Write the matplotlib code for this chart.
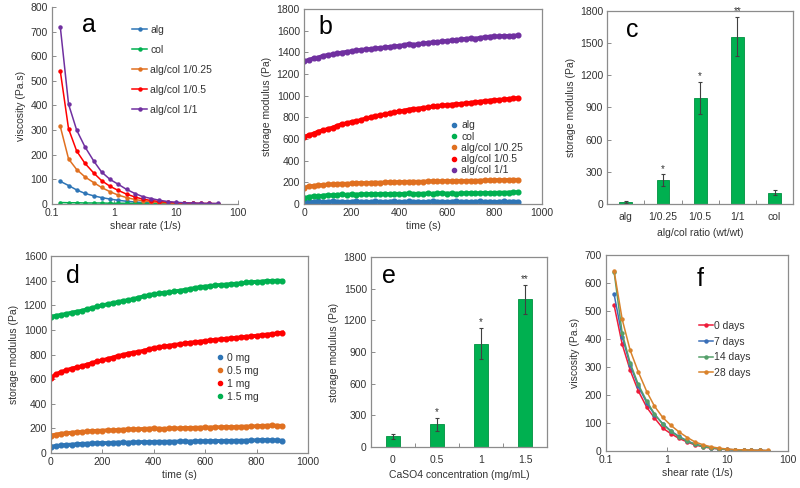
import numpy as np
import matplotlib
matplotlib.use("Agg")
import matplotlib.pyplot as plt

plt.rcParams['font.family'] = ['Liberation Sans', 'DejaVu Sans']
plt.rcParams['font.size'] = 7.5
plt.rcParams['text.color'] = '#333333'
plt.rcParams['axes.labelcolor'] = '#333333'
plt.rcParams['xtick.color'] = '#333333'
plt.rcParams['ytick.color'] = '#333333'

# ----------------------------
# DATA
# ----------------------------

# shear sweep (panels a, f)
shear_rate = [0.136, 0.185, 0.25, 0.34, 0.47, 0.63, 0.86, 1.17, 1.6, 2.2,
              2.9, 4.0, 5.4, 7.4, 10, 13.6, 18.5, 25, 34, 47]

visc_alg = [92, 75, 57, 43, 33, 26, 20, 15, 11, 8, 6, 4, 3, 2, 2, 1, 1, 1, 1, 1]
visc_col = [6, 5, 5, 4, 4, 4, 3, 3, 3, 2, 2, 2, 2, 1, 1, 1, 1, 1, 1, 1]
visc_025 = [315, 183, 140, 110, 87, 67, 50, 36, 26, 18, 13, 9, 6, 4, 3, 2, 2, 1, 1, 1]
visc_05 = [540, 305, 215, 165, 126, 95, 72, 55, 40, 28, 20, 14, 10, 7, 5, 4, 3, 2, 2, 1]
visc_11 = [720, 405, 300, 232, 175, 130, 100, 80, 59, 42, 30, 22, 15, 10, 7, 5, 4, 3, 2, 2]

visc_0d = [521, 381, 289, 215, 156, 118, 82, 62, 45, 32, 22, 15, 10, 7, 5, 4, 3, 2, 2, 1]
visc_7d = [560, 408, 307, 232, 172, 130, 98, 72, 52, 36, 25, 17, 12, 8, 6, 4, 3, 2, 2, 1]
visc_14d = [640, 420, 315, 238, 178, 133, 96, 70, 50, 35, 24, 16, 11, 8, 5, 4, 3, 2, 2, 1]
visc_28d = [643, 470, 360, 283, 212, 160, 120, 92, 68, 48, 33, 22, 15, 10, 7, 5, 4, 3, 2, 2]

# time sweeps (panels b, d), one value every 20 s
time_s = np.arange(0, 901, 20)

g_alg = [18, 22, 20, 24, 19, 21, 23, 20, 22, 18, 21, 24, 20, 22, 19, 23, 21, 20, 22, 24,
         19, 21, 23, 20, 22, 18, 21, 23, 20, 22, 19, 21, 24, 20, 22, 19, 21, 23, 20, 22,
         18, 21, 23, 20, 22, 20]
g_col = [55, 65, 72, 70, 78, 82, 80, 85, 88, 84, 90, 86, 92, 88, 94, 90, 92, 95, 90, 96,
         92, 94, 98, 92, 96, 94, 98, 95, 97, 100, 96, 98, 94, 100, 98, 102, 98, 100, 104, 100,
         102, 105, 104, 106, 108, 110]
g_025 = [150, 162, 168, 172, 176, 180, 182, 185, 188, 186, 190, 192, 194, 192, 196, 198, 196, 200, 202, 200,
         204, 203, 205, 206, 204, 207, 208, 210, 208, 210, 212, 210, 212, 214, 212, 215, 214, 216, 218, 217,
         220, 222, 220, 222, 224, 222]
g_05 = [620, 635, 650, 668, 680, 692, 705, 722, 738, 745, 758, 765, 775, 790, 800, 812, 820, 828, 838, 846,
        855, 862, 872, 878, 880, 888, 892, 900, 905, 910, 912, 918, 922, 925, 930, 935, 940, 945, 950, 955,
        960, 962, 965, 970, 975, 978]
g_11 = [1318, 1330, 1345, 1352, 1368, 1375, 1382, 1390, 1398, 1405, 1410, 1418, 1422, 1428, 1430, 1436, 1440, 1446, 1450, 1455,
        1460, 1466, 1478, 1470, 1476, 1482, 1488, 1492, 1496, 1500, 1505, 1510, 1515, 1520, 1524, 1530, 1526, 1534, 1540, 1545,
        1548, 1546, 1552, 1550, 1554, 1556]

g_0mg = [52, 58, 62, 66, 68, 72, 74, 76, 78, 80, 82, 80, 84, 85, 86, 84, 88, 87, 90, 88,
         90, 92, 90, 93, 92, 94, 95, 93, 96, 95, 97, 96, 98, 97, 99, 98, 100, 99, 101, 102,
         104, 106, 105, 104, 102, 100]
g_05mg = [142, 150, 158, 160, 165, 170, 172, 175, 178, 180, 182, 185, 184, 188, 190, 192, 194, 193, 196, 198,
          200, 198, 196, 200, 202, 200, 204, 203, 205, 206, 208, 207, 210, 209, 212, 210, 212, 214, 215, 216,
          218, 220, 222, 224, 222, 220]
g_1mg = [612, 640, 658, 672, 686, 695, 705, 718, 730, 745, 752, 765, 775, 788, 796, 808, 815, 822, 830, 842,
         852, 860, 866, 872, 878, 884, 890, 896, 900, 905, 910, 915, 920, 924, 928, 932, 936, 940, 945, 948,
         952, 958, 962, 966, 972, 978]
g_15mg = [1108, 1115, 1122, 1130, 1140, 1148, 1155, 1168, 1178, 1190, 1200, 1208, 1218, 1226, 1235, 1242, 1250, 1262, 1272, 1282,
          1290, 1296, 1302, 1306, 1312, 1318, 1325, 1332, 1340, 1348, 1352, 1356, 1362, 1365, 1368, 1372, 1375, 1378, 1385, 1388,
          1390, 1392, 1398, 1396, 1400, 1398]

# bar charts (panels c, e)
ratio_labels = ['alg', '1/0.25', '1/0.5', '1/1', 'col']
ratio_mod = [20, 220, 985, 1560, 105]
ratio_err = [10, 55, 150, 180, 25]
ratio_sig = ['', '*', '*', '**', '']

caso4_labels = ['0', '0.5', '1', '1.5']
caso4_mod = [100, 215, 980, 1400]
caso4_err = [25, 60, 150, 135]
caso4_sig = ['', '*', '*', '**']

BLUE = '#2e75b6'
GREEN = '#00b050'
ORANGE = '#e07020'
RED = '#ff0000'
PURPLE = '#7030a0'
SPINE = '#8c8c8c'


def style(ax, frame=True):
    for s in ax.spines.values():
        s.set_color(SPINE)
        s.set_linewidth(0.9)
    if not frame:
        ax.spines['top'].set_visible(False)
        ax.spines['right'].set_visible(False)
    ax.tick_params(direction='in', length=3, width=0.7, color=SPINE, labelsize=7.5, pad=3)
    ax.tick_params(which='minor', length=0)


def letter(ax, x, y, s):
    ax.text(x, y, s, transform=ax.transAxes, fontsize=18, color='black', ha='left', va='center')


fig = plt.figure(figsize=(8, 4.88), dpi=100)

# ----------------------------
# a
# ----------------------------
ax = fig.add_axes([0.065, 0.582, 0.2325, 0.4037])
for vals, col, lab in [(visc_alg, BLUE, 'alg'), (visc_col, GREEN, 'col'),
                       (visc_025, ORANGE, 'alg/col 1/0.25'), (visc_05, RED, 'alg/col 1/0.5'),
                       (visc_11, PURPLE, 'alg/col 1/1')]:
    ax.plot(shear_rate, vals, '-o', color=col, ms=2.2, lw=1.1, label=lab)
ax.set_xscale('log')
ax.set_xlim(0.1, 100)
ax.set_ylim(0, 800)
ax.set_yticks(range(0, 801, 100))
ax.set_xticks([0.1, 1, 10, 100])
ax.set_xticklabels(['0.1', '1', '10', '100'])
ax.set_xlabel('shear rate (1/s)', labelpad=2)
ax.set_ylabel('viscosity (Pa.s)', labelpad=3)
style(ax, frame=False)
ax.legend(loc='upper left', bbox_to_anchor=(0.41, 0.93), frameon=False, fontsize=7.5,
          handlelength=1.4, labelspacing=0.95, handletextpad=0.3, borderaxespad=0)
letter(ax, 0.16, 0.91, 'a')

# ----------------------------
# b
# ----------------------------
ax = fig.add_axes([0.38, 0.582, 0.2975, 0.3996])
for vals, col, lab in [(g_alg, BLUE, 'alg'), (g_col, GREEN, 'col'),
                       (g_025, ORANGE, 'alg/col 1/0.25'), (g_05, RED, 'alg/col 1/0.5'),
                       (g_11, PURPLE, 'alg/col 1/1')]:
    ax.plot(time_s, vals, '-o', color=col, ms=3.4, lw=2.8, label=lab)
ax.set_xlim(0, 1000)
ax.set_ylim(0, 1800)
ax.set_yticks(range(0, 1801, 200))
ax.set_xticks(range(0, 1001, 200))
ax.set_xlabel('time (s)', labelpad=2)
ax.set_ylabel('storage modulus (Pa)', labelpad=3)
style(ax)
hb = ax.legend(loc='upper left', bbox_to_anchor=(0.6, 0.45), frameon=False, fontsize=7.5,
               handlelength=0.6, labelspacing=0.12, handletextpad=0.4, borderaxespad=0)
for h in hb.legend_handles:
    h.set_linestyle('none')
    h.set_markersize(3)
letter(ax, 0.06, 0.91, 'b')

# ----------------------------
# c
# ----------------------------
ax = fig.add_axes([0.759, 0.582, 0.2325, 0.3955])
xc = np.arange(len(ratio_labels))
ax.bar(xc, ratio_mod, width=0.34, color=GREEN, edgecolor='#009040', linewidth=0.6,
       yerr=ratio_err, error_kw=dict(ecolor='#404040', elinewidth=0.8, capsize=1.5, capthick=0.8))
for xi, v, e, s in zip(xc, ratio_mod, ratio_err, ratio_sig):
    if s:
        ax.text(xi, v + e + 8, s, ha='center', va='bottom', fontsize=7, color='#333333')
ax.set_xlim(-0.5, 4.5)
ax.set_ylim(0, 1800)
ax.set_yticks(range(0, 1801, 300))
ax.set_xticks(xc)
ax.set_xticklabels(ratio_labels)
ax.set_xticks(np.arange(0.5, 4, 1), minor=True)
ax.set_xlabel('alg/col ratio (wt/wt)', labelpad=4)
ax.set_ylabel('storage modulus (Pa)', labelpad=3)
style(ax)
ax.tick_params(axis='x', which='major', length=0, pad=6)
ax.tick_params(axis='x', which='minor', direction='in', length=3, width=0.7, color=SPINE)
letter(ax, 0.1, 0.9, 'c')

# ----------------------------
# d
# ----------------------------
ax = fig.add_axes([0.06375, 0.0717, 0.32125, 0.4037])
for vals, col, lab in [(g_0mg, BLUE, '0 mg'), (g_05mg, ORANGE, '0.5 mg'),
                       (g_1mg, RED, '1 mg'), (g_15mg, GREEN, '1.5 mg')]:
    ax.plot(time_s, vals, '-o', color=col, ms=3.4, lw=2.8, label=lab)
ax.set_xlim(0, 1000)
ax.set_ylim(0, 1600)
ax.set_yticks(range(0, 1601, 200))
ax.set_xticks(range(0, 1001, 200))
ax.set_xlabel('time (s)', labelpad=2)
ax.set_ylabel('storage modulus (Pa)', labelpad=3)
style(ax)
hd = ax.legend(loc='upper left', bbox_to_anchor=(0.63, 0.53), frameon=False, fontsize=7.5,
               handlelength=0.6, labelspacing=0.3, handletextpad=0.4, borderaxespad=0)
for h in hd.legend_handles:
    h.set_linestyle('none')
    h.set_markersize(3)
letter(ax, 0.06, 0.9, 'd')

# ----------------------------
# e
# ----------------------------
ax = fig.add_axes([0.46375, 0.084, 0.22, 0.389])
xe = np.arange(len(caso4_labels))
ax.bar(xe, caso4_mod, width=0.32, color=GREEN, edgecolor='#009040', linewidth=0.6,
       yerr=caso4_err, error_kw=dict(ecolor='#404040', elinewidth=0.8, capsize=1.5, capthick=0.8))
for xi, v, e, s in zip(xe, caso4_mod, caso4_err, caso4_sig):
    if s:
        ax.text(xi, v + e + 8, s, ha='center', va='bottom', fontsize=7, color='#333333')
ax.set_xlim(-0.5, 3.5)
ax.set_ylim(0, 1800)
ax.set_yticks(range(0, 1801, 300))
ax.set_xticks(xe)
ax.set_xticklabels(caso4_labels)
ax.set_xticks(np.arange(0.5, 3, 1), minor=True)
ax.set_xlabel('CaSO4 concentration (mg/mL)', labelpad=3)
ax.set_ylabel('storage modulus (Pa)', labelpad=3)
style(ax)
ax.tick_params(axis='x', which='major', length=0, pad=6)
ax.tick_params(axis='x', which='minor', direction='in', length=3, width=0.7, color=SPINE)
letter(ax, 0.06, 0.9, 'e')

# ----------------------------
# f
# ----------------------------
ax = fig.add_axes([0.7575, 0.0758, 0.2275, 0.4016])
for vals, col, lab in [(visc_0d, '#ee1c3a', '0 days'), (visc_7d, '#3a6fb8', '7 days'),
                       (visc_14d, '#55a06a', '14 days'), (visc_28d, '#d9822b', '28 days')]:
    ax.plot(shear_rate, vals, '-o', color=col, ms=2.2, lw=1.1, label=lab)
ax.set_xscale('log')
ax.set_xlim(0.1, 100)
ax.set_ylim(0, 700)
ax.set_yticks(range(0, 701, 100))
ax.set_xticks([0.1, 1, 10, 100])
ax.set_xticklabels(['0.1', '1', '10', '100'])
ax.set_xlabel('shear rate (1/s)', labelpad=2)
ax.set_ylabel('viscosity (Pa.s)', labelpad=3)
style(ax)
ax.legend(loc='upper left', bbox_to_anchor=(0.49, 0.685), frameon=False, fontsize=7.5,
          handlelength=1.3, labelspacing=0.55, handletextpad=0.15, borderaxespad=0)
letter(ax, 0.5, 0.88, 'f')

fig.savefig('out.png', dpi=100)
